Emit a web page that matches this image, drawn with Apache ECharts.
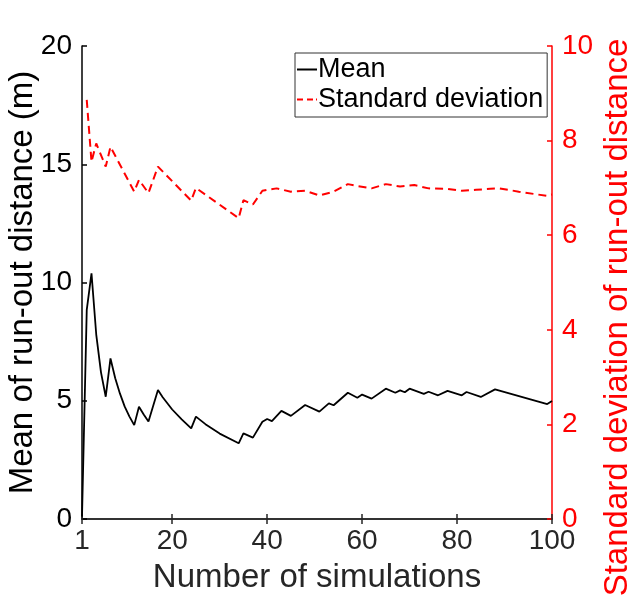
<!DOCTYPE html>
<html>
<head>
<meta charset="utf-8">
<script src="https://cdn.jsdelivr.net/npm/echarts@6/dist/echarts.min.js"></script>
<style>
  html, body { margin: 0; padding: 0; background: #fff; }
  #main { width: 635px; height: 599px; }
</style>
</head>
<body>
<div id="main"></div>
<script>
// values
var meanN = [1, 2, 3, 4, 5, 6, 7, 8, 9, 10, 11, 12, 13, 14, 15, 17, 18, 20, 22, 24, 25, 27, 30, 34, 35, 37,
  39, 40, 41, 43, 45, 48, 51, 53, 54, 57, 59, 60, 62, 65, 67, 68, 69, 70, 73, 74, 76, 78, 81, 82, 85, 88, 99, 100];
var meanVal = [0.1, 8.84, 10.39, 7.8, 6.2, 5.17, 6.79, 5.95, 5.3, 4.75, 4.33, 3.97, 4.75, 4.42, 4.12, 5.45, 5.15, 4.63, 4.21, 3.83, 4.33, 4.01, 3.61, 3.2, 3.62, 3.44,
  4.11, 4.23, 4.14, 4.57, 4.36, 4.82, 4.54, 4.89, 4.81, 5.34, 5.13, 5.26, 5.09, 5.51, 5.34, 5.44, 5.36, 5.51, 5.29, 5.38, 5.23, 5.42, 5.23, 5.37, 5.16, 5.48, 4.86, 4.99];
var stdN = [2, 3, 4, 6, 7, 12, 13, 15, 17, 24, 25, 34, 35, 37, 39, 40, 42, 45, 48, 51, 54, 57, 59, 62, 65, 68, 71, 74, 78, 81, 84, 87, 89, 93, 97, 99, 100];
var stdVal = [8.86, 7.55, 7.94, 7.45, 7.87, 6.92, 7.17, 6.89, 7.45, 6.73, 7.0, 6.36, 6.74, 6.65, 6.94, 6.96, 6.99, 6.92, 6.94, 6.84, 6.92, 7.08, 7.04, 6.99, 7.08, 7.03, 7.06, 6.99, 6.98, 6.94, 6.96, 6.98, 6.99, 6.92, 6.86, 6.83, 6.86];
var xTicks = [1, 20, 40, 60, 80, 100];

var font = 'Liberation Sans, Arial, sans-serif';
var dark = '#262626';

function pairs(xs, ys) {
  return xs.map(function (x, i) { return [x, ys[i]]; });
}

var chart = echarts.init(document.getElementById('main'));
var option = {
  backgroundColor: '#fff',
  animation: false,
  grid: { left: 82, right: 83, top: 46, bottom: 80, outerBoundsMode: 'none' },
  legend: {
    orient: 'vertical',
    left: 295,
    top: 53,
    width: 253,
    padding: [3, 4, 4, 2],
    itemGap: 3,
    itemWidth: 20,
    itemHeight: 2,
    borderColor: '#333',
    borderWidth: 1,
    backgroundColor: '#fff',
    textStyle: { fontFamily: font, fontSize: 27, color: '#000', padding: [0, 0, 0, -4] },
    data: [
      { name: 'Mean', icon: 'path://M0,0H20V2H0Z' },
      { name: 'Standard deviation', icon: 'path://M0,0H6V2H0Z M10,0H16V2H10Z M19,0H20V2H19Z' }
    ]
  },
  xAxis: [{
    type: 'value', min: 1, max: 100,
    name: 'Number of simulations', nameLocation: 'middle', nameGap: 42, nameMoveOverlap: false,
    nameTextStyle: { fontFamily: font, fontSize: 33, color: dark },
    axisLine: { lineStyle: { color: dark, width: 1.5 } },
    axisTick: { inside: true, length: 5, customValues: xTicks, lineStyle: { color: dark, width: 1.5 } },
    axisLabel: { customValues: xTicks, fontFamily: font, fontSize: 28, color: dark, margin: 8 },
    splitLine: { show: false }
  }, {
    type: 'value', min: 1, max: 100, position: 'top',
    axisLine: { lineStyle: { color: dark, width: 1.5 } },
    axisTick: { inside: true, length: 5, customValues: xTicks, lineStyle: { color: dark, width: 1.5 } },
    axisLabel: { show: false },
    splitLine: { show: false }
  }],
  yAxis: [{
    type: 'value', min: 0, max: 20, interval: 5,
    name: 'Mean of run-out distance (m)', nameLocation: 'middle', nameGap: 43, nameRotate: 90, nameMoveOverlap: false,
    nameTextStyle: { fontFamily: font, fontSize: 33, color: '#000' },
    axisLine: { show: true, lineStyle: { color: '#000', width: 1.5 } },
    axisTick: { show: true, inside: true, length: 5, lineStyle: { color: '#000', width: 1.5 } },
    axisLabel: { fontFamily: font, fontSize: 28, color: '#000', margin: 10 },
    splitLine: { show: false }
  }, {
    type: 'value', min: 0, max: 10, interval: 2, position: 'right',
    name: 'Standard deviation of run-out distance', nameLocation: 'middle', nameGap: 49, nameRotate: 90, nameMoveOverlap: false,
    nameTextStyle: { fontFamily: font, fontSize: 33, color: '#ff0000', padding: [0, 70, 0, 0] },
    axisLine: { show: true, lineStyle: { color: '#ff0000', width: 1.5 } },
    axisTick: { show: true, inside: true, length: 5, lineStyle: { color: '#ff0000', width: 1.5 } },
    axisLabel: { fontFamily: font, fontSize: 28, color: '#ff0000', margin: 10 },
    splitLine: { show: false }
  }],
  series: [{
    name: 'Mean', type: 'line', yAxisIndex: 0, showSymbol: false, symbol: 'none',
    lineStyle: { color: '#000', width: 1.8 }, itemStyle: { color: '#000' },
    data: pairs(meanN, meanVal)
  }, {
    name: 'Standard deviation', type: 'line', yAxisIndex: 1, showSymbol: false, symbol: 'none',
    lineStyle: { color: '#ff0000', width: 2, type: [8, 5] }, itemStyle: { color: '#ff0000' },
    data: pairs(stdN, stdVal)
  }]
};
chart.setOption(option);
</script>
</body>
</html>
